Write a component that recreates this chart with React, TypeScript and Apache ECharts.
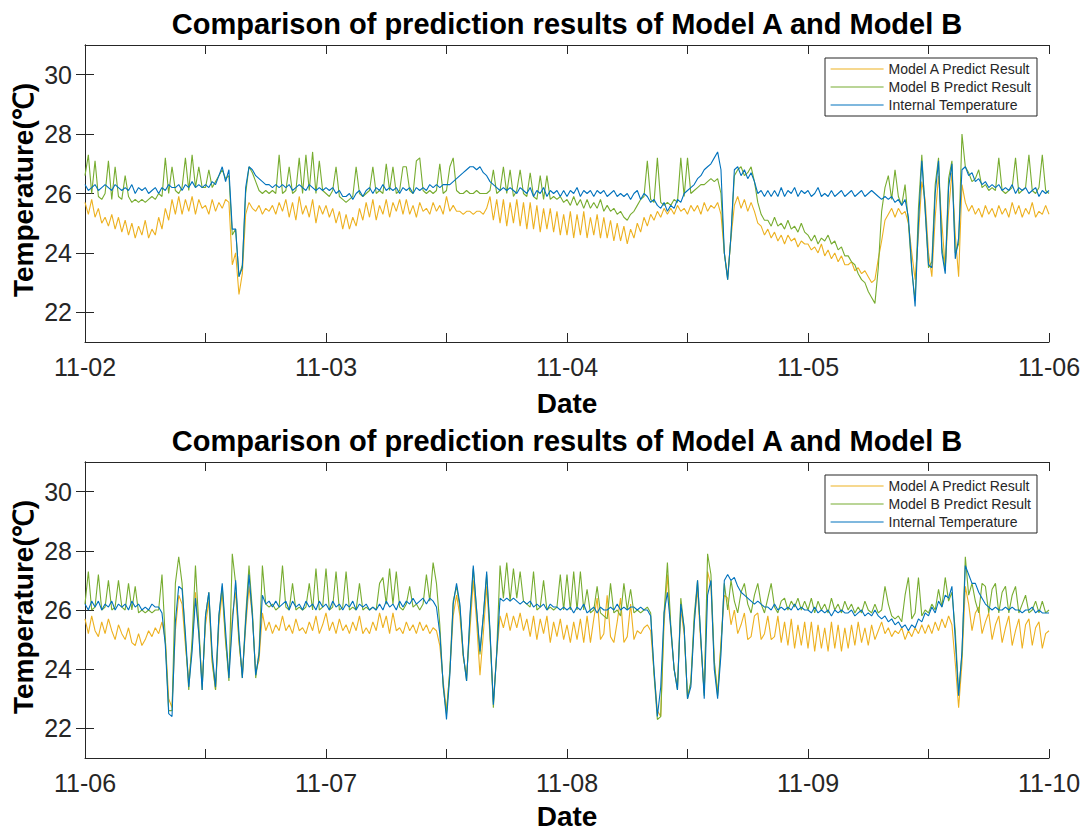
import React, { useEffect, useRef } from "react";
import * as echarts from "echarts";

// ---- Data (20-minute samples, 72 per day, 4 days per panel) ----
const topDates = ["11-02", "11-03", "11-04", "11-05", "11-06"];
const bottomDates = ["11-06", "11-07", "11-08", "11-09", "11-10"];
const yTickValues = [22, 24, 26, 28, 30];
const xTickValues = [0, 0.5, 1, 1.5, 2, 2.5, 3, 3.5, 4];
const xLabelValues = [0, 1, 2, 3, 4];

const topInternal = [
  26.3, 26.1, 26.2, 26.3, 26.1, 26.2, 26.3, 26.2, 26.1, 26.3, 26.2, 26.1,
  26.2, 26.1, 26.3, 26.0, 26.2, 26.1, 26.2, 26.0, 26.1, 26.2, 26.0, 26.2,
  26.1, 26.3, 26.2, 26.2, 26.3, 26.1, 26.3, 26.2, 26.4, 26.2, 26.3, 26.2,
  26.3, 26.2, 26.4, 26.3, 26.6, 26.9, 26.4, 26.8, 24.8, 24.8, 23.2, 23.5,
  26.2, 26.9, 26.8, 26.6, 26.5, 26.4, 26.3, 26.3, 26.2, 26.3, 26.2, 26.3,
  26.2, 26.3, 26.1, 26.2, 26.3, 26.2, 26.1, 26.3, 26.2, 26.1, 26.2, 26.1,
  26.2, 26.1, 26.2, 26.0, 26.1, 25.9, 25.9, 26.0, 25.8, 26.0, 26.1, 25.9,
  26.1, 26.2, 26.0, 26.2, 26.1, 26.3, 26.1, 26.2, 26.1, 26.2, 26.0, 26.2,
  26.1, 26.2, 26.0, 26.2, 26.1, 26.2, 26.1, 26.3, 26.2, 26.3, 26.2, 26.3,
  26.3, 26.3, 26.4, 26.5, 26.6, 26.7, 26.8, 26.9, 26.9, 26.8, 26.9, 26.7,
  26.6, 26.4, 26.3, 26.2, 26.1, 26.2, 26.1, 26.2, 26.1, 26.0, 26.2, 26.1,
  26.0, 26.2, 25.9, 26.1, 26.0, 26.2, 25.9, 26.1, 26.0, 26.1, 25.9, 26.1,
  25.9, 26.1, 26.0, 26.2, 25.9, 26.1, 26.0, 26.1, 25.9, 26.1, 26.0, 26.1,
  25.9, 26.0, 26.1, 25.9, 26.0, 25.9, 26.0, 25.8, 26.0, 26.1, 25.8, 26.0,
  25.9, 25.7, 25.8, 25.6, 25.5, 25.7, 25.4, 25.6, 25.5, 25.8, 25.7, 26.0,
  26.1, 26.2, 26.3, 26.5, 26.6, 26.8, 26.9, 27.0, 27.2, 27.4, 26.8, 24.0,
  23.1, 24.6, 26.8, 26.9, 26.6, 26.8, 26.5, 26.7, 26.4, 26.0, 26.1, 25.9,
  26.1, 25.9, 26.1, 25.9, 26.2, 25.9, 26.1, 26.0, 26.2, 25.9, 26.1, 26.0,
  26.1, 25.9, 26.0, 26.2, 25.9, 26.0, 25.9, 26.1, 25.9, 26.0, 26.1, 25.9,
  26.0, 26.1, 25.9, 26.0, 26.1, 25.9, 26.0, 26.1, 26.0, 25.9, 25.8, 25.9,
  25.8, 25.9, 25.7, 25.8, 25.6, 25.8, 25.2, 23.5, 22.2, 25.0, 27.1, 25.5,
  23.6, 23.5, 26.0, 27.1, 24.0, 23.3, 26.2, 27.0, 23.8, 24.5, 26.8, 26.9,
  26.6, 26.7, 26.4, 26.5, 26.3, 26.4, 26.2, 26.3, 26.2, 26.3, 26.1, 26.2,
  26.1, 26.3, 26.0, 26.2, 26.1, 26.2, 26.0, 26.1, 26.2, 25.9, 26.1, 26.0,
  26.1,
];

const topModelB = [
  26.6, 27.3, 26.0, 27.1, 25.9, 25.8, 26.0, 27.1, 25.8, 26.9, 25.9, 25.8,
  26.6, 25.9, 25.7, 25.8, 25.7, 25.8, 25.7, 25.8, 25.9, 25.8, 26.0, 25.9,
  27.2, 26.0, 26.9, 26.1, 26.0, 26.2, 27.2, 26.1, 27.3, 26.2, 26.9, 26.2,
  26.2, 26.8, 26.2, 26.4, 26.6, 26.8, 26.5, 26.6, 24.6, 24.8, 23.2, 23.6,
  26.0, 26.9, 26.7, 26.4, 26.1, 26.0, 26.1, 26.0, 26.1, 26.0, 27.3, 26.0,
  26.1, 26.9, 26.0, 26.1, 27.2, 26.0, 27.3, 26.1, 27.4, 26.0, 27.1, 26.1,
  26.0, 25.9, 26.1, 26.9, 25.9, 25.8, 25.7, 25.8, 25.9, 26.9, 26.0, 25.9,
  26.0, 26.1, 26.9, 26.0, 26.1, 26.0, 27.0, 26.1, 26.9, 26.0, 26.1, 26.9,
  26.9, 26.1, 26.0, 27.1, 27.2, 26.1, 26.0, 26.1, 26.0, 26.1, 27.0, 26.0,
  26.1, 26.9, 27.2, 26.1, 26.0, 26.0, 26.1, 26.0, 26.0, 26.1, 26.0, 26.0,
  26.0, 26.1, 26.8, 26.0, 26.1, 26.9, 26.0, 26.8, 25.9, 26.1, 26.8, 26.0,
  25.9, 26.7, 25.9, 25.8, 26.6, 25.8, 26.6, 25.8, 25.9, 25.8, 25.9, 25.7,
  25.8, 25.6, 25.9, 25.6, 25.8, 25.5, 25.8, 25.5, 25.7, 25.5, 25.8, 25.4,
  25.6, 25.4, 25.5, 25.3, 25.4, 25.2, 25.1, 25.3, 25.4, 25.6, 25.8, 25.9,
  27.1, 25.8, 25.7, 27.2, 25.7, 25.6, 25.7, 25.6, 25.8, 25.7, 27.2, 25.9,
  27.2, 26.0, 26.1, 26.2, 26.3, 26.3, 26.4, 26.5, 26.4, 26.5, 26.0, 24.0,
  23.1, 24.6, 26.6, 26.8, 26.9, 26.6, 26.7, 26.9, 26.4, 25.7, 25.3, 25.1,
  25.1, 24.9, 25.2, 24.9, 25.0, 24.8, 25.1, 24.8, 24.9, 24.7, 25.0, 24.7,
  24.6, 24.4, 24.6, 24.3, 24.5, 24.4, 24.6, 24.3, 24.4, 24.1, 24.2, 23.9,
  23.9, 23.7, 23.6, 23.3, 23.1, 23.0, 22.7, 22.5, 22.3, 23.5, 25.4, 26.2,
  26.6, 25.8, 26.8, 25.9, 25.6, 26.3, 25.0, 23.4, 22.4, 25.5, 27.3, 25.4,
  23.5, 23.7, 26.3, 27.2, 24.2, 23.4, 26.5, 27.1, 24.0, 24.3, 28.0, 26.9,
  26.7, 26.4, 26.5, 26.8, 26.2, 26.3, 26.1, 26.2, 26.1, 27.2, 26.1, 26.0,
  26.1, 26.2, 27.2, 26.0, 26.1, 26.2, 27.3, 26.1, 26.0, 26.2, 27.3, 26.1,
  26.0,
];

const topModelA = [
  25.7, 25.3, 25.8, 25.2, 25.5, 25.0, 25.2, 24.9, 25.3, 24.8, 25.2, 24.7,
  25.1, 24.6, 25.0, 24.5, 24.9, 24.6, 25.1, 24.5, 24.8, 24.6, 25.2, 24.8,
  25.5, 25.1, 25.8, 25.3, 25.9, 25.3, 25.8, 25.4, 25.9, 25.3, 25.8, 25.5,
  25.6, 25.3, 25.8, 25.4, 25.7, 25.5, 25.8, 25.7, 23.6, 24.0, 22.6, 23.3,
  25.3, 25.7, 25.5, 25.4, 25.6, 25.3, 25.5, 25.4, 25.6, 25.3, 25.7, 25.4,
  25.8, 25.2, 25.7, 25.1, 25.9, 25.3, 25.6, 25.2, 25.8, 25.0, 25.6, 25.3,
  25.6, 25.2, 25.5, 25.0, 25.4, 24.8, 25.3, 24.8, 25.2, 24.9, 25.5, 25.1,
  25.7, 25.2, 25.8, 25.1, 25.6, 25.3, 25.8, 25.2, 25.7, 25.4, 25.8, 25.3,
  25.8, 25.3, 25.6, 25.2, 25.7, 25.4, 25.5, 25.3, 25.7, 25.4, 25.6, 25.3,
  25.9, 25.4, 25.6, 25.4, 25.4, 25.3, 25.4, 25.4, 25.3, 25.4, 25.4, 25.3,
  25.5, 25.9, 25.1, 25.8, 25.0, 25.8, 24.9, 25.7, 25.0, 25.8, 24.9, 25.7,
  24.8, 25.7, 24.8, 25.6, 24.7, 25.5, 24.8, 25.5, 24.7, 25.4, 24.6, 25.3,
  24.6, 25.4, 24.5, 25.3, 24.6, 25.4, 24.5, 25.2, 24.6, 25.3, 24.5, 25.2,
  24.5, 25.1, 24.4, 25.0, 24.4, 24.9, 24.3, 24.8, 24.5, 25.0, 24.7, 25.2,
  24.9, 25.3, 25.1, 25.4, 25.2, 25.5, 25.3, 25.5, 25.3, 25.6, 25.4, 25.5,
  25.3, 25.6, 25.4, 25.6, 25.3, 25.7, 25.4, 25.6, 25.5, 25.7, 25.3, 24.0,
  23.2, 24.5, 25.6, 25.9, 25.5, 25.8, 25.4, 25.7, 25.4, 25.0, 24.9, 24.6,
  24.8, 24.5, 24.7, 24.4, 24.6, 24.3, 24.6, 24.4, 24.5, 24.2, 24.4, 24.3,
  24.3, 24.1, 24.2, 24.0, 24.3, 23.9, 24.1, 23.8, 24.0, 23.7, 23.9, 23.6,
  23.6, 23.7, 23.4, 23.5, 23.3, 23.4, 23.2, 23.0, 23.1, 23.8, 24.4, 25.1,
  25.3, 25.5, 25.2, 25.5, 25.3, 25.4, 25.0, 24.0, 23.1, 24.6, 26.4, 25.8,
  24.0, 23.2, 25.2, 26.6, 25.0, 23.5, 25.4, 26.7, 24.6, 23.2, 26.3, 25.7,
  25.4, 25.6, 25.3, 25.5, 25.2, 25.6, 25.3, 25.5, 25.2, 25.6, 25.3, 25.5,
  25.2, 25.7, 25.3, 25.6, 25.2, 25.5, 25.3, 25.7, 25.2, 25.4, 25.3, 25.6,
  25.3,
];

const bottomInternal = [
  26.2, 26.0, 26.3, 26.1, 26.3, 26.0, 26.2, 26.1, 26.3, 26.0, 26.2, 26.1,
  26.2, 26.0, 26.3, 26.1, 26.2, 26.0, 26.1, 26.0, 26.2, 26.1, 26.1, 25.9,
  24.8, 22.5, 22.4, 25.6, 26.8, 26.7, 25.2, 23.4, 24.6, 26.4, 25.2, 23.3,
  25.8, 26.6, 24.5, 23.4, 25.8, 26.9, 25.3, 23.7, 25.5, 27.0, 25.2, 23.7,
  25.6, 27.2, 25.8, 23.8, 24.5, 26.5, 26.2, 26.3, 26.1, 26.3, 26.1, 26.2,
  26.3, 26.0, 26.3, 26.1, 26.2, 26.0, 26.3, 26.1, 26.2, 26.0, 26.3, 26.1,
  26.2, 26.0, 26.3, 26.1, 26.2, 26.0, 26.2, 26.1, 26.3, 26.0, 26.2, 26.1,
  26.2, 26.0, 26.1, 26.0, 26.2, 26.0, 26.3, 26.1, 26.2, 26.0, 26.3, 26.1,
  26.3, 26.2, 26.4, 26.2, 26.3, 26.4, 26.2, 26.4, 26.3, 26.1, 25.2, 23.5,
  22.3, 23.8, 26.2, 26.9, 26.2, 24.5, 23.6, 25.8, 27.5, 26.0, 24.6, 25.8,
  27.3, 25.3, 22.8, 24.5, 26.4, 26.3, 26.4, 26.3, 26.4, 26.3, 26.2, 26.3,
  26.2, 26.3, 26.1, 26.2, 26.1, 26.2, 26.0, 26.2, 26.1, 26.1, 26.0, 26.1,
  26.0, 26.1, 25.9, 26.1, 26.0, 26.2, 25.9, 26.0, 26.1, 25.9, 26.1, 26.0,
  26.0, 26.1, 26.0, 26.2, 26.0, 26.1, 26.0, 26.1, 26.1, 26.0, 26.1, 26.0,
  26.0, 25.8, 24.0, 22.4, 23.4, 25.9, 26.6, 25.4, 24.0, 23.3, 26.2, 25.4,
  23.0, 23.4, 25.5, 27.0, 25.0, 23.0, 26.5, 27.0, 24.0, 23.0, 24.5, 27.0,
  27.2, 27.0, 27.1, 26.8, 26.6, 26.5, 26.4, 26.3, 26.2, 26.3, 26.2, 26.1,
  26.1, 26.0, 26.2, 26.0, 26.1, 26.0, 26.1, 26.0, 26.2, 26.0, 26.1, 26.0,
  26.0, 25.9, 26.1, 25.9, 26.0, 25.9, 26.0, 25.8, 26.0, 25.9, 26.0, 25.9,
  25.9, 26.0, 25.8, 25.9, 26.0, 25.8, 25.9, 25.8, 26.0, 25.8, 25.7, 25.8,
  25.6, 25.7, 25.5, 25.6, 25.4, 25.5, 25.3, 25.5, 25.4, 25.7, 25.6, 25.9,
  25.8, 26.1, 25.9, 26.3, 26.1, 26.5, 26.4, 26.8, 25.0, 23.1, 24.6, 27.5,
  27.2, 26.9, 26.9, 26.6, 26.4, 26.2, 26.1, 26.0, 26.1, 26.0, 26.0, 26.1,
  26.0, 26.1, 26.0, 26.0, 25.9, 26.0, 26.0, 26.1, 25.9, 26.0, 25.9, 25.9,
  25.9,
];

const bottomModelB = [
  26.2, 27.3, 26.0, 26.1, 27.2, 26.0, 26.1, 27.0, 26.0, 26.1, 27.0, 26.1,
  26.0, 26.9, 26.0, 26.8, 25.9, 26.0, 25.9, 26.0, 25.9, 26.0, 26.0, 27.2,
  25.0, 22.6, 22.6, 26.9, 27.8, 26.9, 25.0, 23.3, 25.0, 27.5, 25.5, 23.3,
  25.8, 26.6, 24.3, 23.3, 25.8, 26.8, 25.0, 23.6, 27.9, 26.9, 25.0, 23.7,
  25.8, 27.5, 26.0, 23.7, 24.6, 27.5, 26.2, 26.1, 26.2, 26.0, 26.1, 27.5,
  26.1, 26.0, 26.9, 26.0, 26.1, 26.0, 26.1, 26.9, 26.0, 27.4, 26.0, 26.1,
  27.4, 26.0, 26.1, 27.3, 26.0, 26.1, 27.3, 26.0, 26.1, 26.0, 26.9, 26.0,
  26.1, 26.0, 26.1, 26.0, 26.9, 27.1, 26.2, 27.4, 26.2, 27.3, 26.1, 26.0,
  26.2, 26.8, 26.1, 26.2, 26.0, 26.2, 27.2, 26.3, 27.6, 26.9, 25.5, 23.4,
  22.5, 24.0, 26.3, 26.8, 26.1, 24.5, 23.6, 25.7, 27.4, 26.0, 24.5, 25.8,
  27.2, 25.2, 22.7, 24.6, 27.5, 26.4, 27.6, 26.3, 27.4, 26.4, 27.3, 26.3,
  26.2, 26.1, 27.3, 26.0, 26.1, 27.0, 26.0, 26.1, 26.0, 26.1, 27.2, 26.0,
  27.2, 26.0, 27.3, 26.0, 27.3, 26.0, 26.7, 25.9, 26.0, 26.8, 25.9, 25.8,
  25.7, 26.9, 25.9, 26.0, 25.8, 26.9, 26.0, 26.7, 25.9, 26.0, 25.9, 26.0,
  26.1, 25.9, 23.8, 22.3, 22.4, 25.9, 27.6, 25.5, 24.0, 23.3, 26.4, 25.4,
  23.0, 23.6, 25.8, 27.0, 25.0, 23.1, 27.9, 27.2, 24.3, 23.1, 24.8, 26.9,
  26.0, 27.0, 26.3, 25.9, 26.6, 26.9, 26.2, 25.9, 26.5, 26.9, 26.2, 25.9,
  26.4, 26.9, 26.1, 25.9, 26.3, 26.4, 26.0, 26.3, 26.1, 26.4, 26.0, 26.3,
  26.0, 26.4, 25.9, 26.3, 26.0, 26.2, 25.9, 26.4, 26.0, 26.2, 25.9, 26.3,
  26.0, 26.2, 25.9, 26.1, 25.9, 26.3, 26.0, 25.9, 26.2, 25.9, 26.0, 26.8,
  26.2, 25.8, 25.7, 25.8, 25.6, 26.5, 27.1, 25.7, 25.9, 27.1, 25.8, 26.0,
  25.9, 26.2, 26.0, 26.7, 26.1, 27.1, 26.3, 26.6, 25.3, 23.2, 24.5, 27.8,
  26.5, 26.9, 26.3, 25.9, 26.9, 26.8, 25.9, 26.7, 26.9, 25.9, 26.6, 26.8,
  25.9, 26.5, 26.8, 25.9, 26.2, 26.5, 25.9, 26.0, 26.3, 25.9, 26.3, 25.9,
  26.0,
];

const bottomModelA = [
  25.7, 25.2, 25.8, 25.3, 25.1, 25.6, 25.2, 25.7, 25.3, 25.0, 25.5, 25.2,
  25.0, 25.4, 24.9, 24.8, 25.2, 24.8, 25.0, 25.3, 25.1, 25.4, 25.2, 25.6,
  25.0, 23.0, 22.7, 25.3, 26.5, 26.2, 24.8, 23.6, 24.8, 26.6, 25.2, 23.5,
  25.5, 26.3, 24.2, 23.3, 25.5, 26.6, 24.9, 23.8, 25.8, 26.6, 24.9, 23.8,
  25.4, 26.8, 25.8, 23.9, 24.3, 25.9, 25.3, 25.6, 25.2, 25.5, 25.3, 25.8,
  25.3, 25.5, 25.2, 25.7, 25.3, 25.4, 25.2, 25.6, 25.3, 25.8, 25.2, 25.5,
  25.9, 25.3, 25.6, 25.2, 25.7, 25.3, 25.5, 25.2, 25.6, 25.3, 25.8, 25.2,
  25.4, 25.2, 25.6, 25.3, 25.9, 25.4, 25.8, 25.2, 25.9, 25.3, 25.4, 25.2,
  25.6, 25.3, 25.5, 25.2, 25.6, 25.3, 25.5, 25.2, 25.4, 25.3, 24.8, 23.6,
  22.6, 23.9, 25.8, 26.5, 25.8, 24.4, 23.8, 25.3, 27.0, 25.6, 23.8, 25.2,
  26.8, 25.1, 22.9, 24.5, 25.8, 25.4, 25.9, 25.3, 25.8, 25.4, 25.9, 25.3,
  25.7, 25.1, 25.8, 25.0, 25.7, 25.2, 25.8, 24.9, 25.6, 25.1, 25.7, 25.0,
  25.5, 24.9, 25.6, 25.0, 25.7, 24.9, 25.8, 24.9, 25.7, 26.4, 25.0, 25.2,
  26.5, 25.1, 24.9, 25.6, 26.4, 24.9, 25.1, 26.2, 25.0, 25.3, 25.2, 25.4,
  25.5, 25.3, 23.9, 22.6, 22.4, 25.5, 27.2, 25.3, 24.0, 23.4, 26.0, 25.2,
  23.1, 23.5, 25.6, 26.7, 24.8, 23.2, 27.3, 26.8, 24.2, 23.2, 24.9, 26.5,
  26.4, 25.5, 26.0, 25.2, 25.5, 25.9, 25.0, 25.1, 25.8, 25.9, 25.0, 25.2,
  25.8, 25.0, 25.1, 25.8, 24.9, 25.6, 24.8, 25.7, 24.7, 25.5, 24.8, 25.6,
  24.7, 25.6, 24.6, 25.5, 24.7, 25.4, 24.6, 25.6, 24.7, 25.5, 24.6, 25.4,
  24.7, 25.5, 24.8, 25.6, 24.9, 25.4, 24.8, 25.5, 25.0, 25.3, 25.6, 25.2,
  25.4, 25.1, 25.3, 25.2, 25.4, 25.0, 25.3, 25.1, 25.4, 25.2, 25.5, 25.2,
  25.5, 25.2, 25.6, 25.3, 25.7, 25.4, 25.8, 25.5, 24.2, 22.7, 24.2, 26.8,
  26.2, 25.3, 25.9, 26.1, 25.2, 25.6, 25.9, 25.0, 25.5, 25.8, 24.9, 25.4,
  25.8, 24.8, 25.3, 25.7, 24.7, 25.5, 25.7, 24.8, 25.4, 25.6, 24.7, 25.2,
  25.3,
];

const seriesNames = ["Model A Predict Result", "Model B Predict Result", "Internal Temperature"];
const seriesColors = ["#EDB120", "#77AC30", "#0072BD"];
const titleText = "Comparison of prediction results of Model A and Model B";

const FONT = "'Liberation Sans', Arial, Helvetica, sans-serif";
const AXIS_COLOR = "#262626";

const toPoints = (arr: number[]) => arr.map((v, i) => [(i * 4) / (arr.length - 1), v]);

export default function App() {
  const ref = useRef<HTMLDivElement>(null);

  useEffect(() => {
    if (!ref.current) return;
    const chart = echarts.init(ref.current, undefined, { renderer: "svg" });

    const grids = [
      { left: 85, top: 45, width: 964, height: 297 },
      { left: 85, top: 462, width: 964, height: 296 },
    ];
    const dateSets = [topDates, bottomDates];

    const xAxes: any[] = [];
    const yAxes: any[] = [];
    [0, 1].forEach((g) => {
      const dates = dateSets[g];
      xAxes.push({
        type: "value",
        gridIndex: g,
        position: "bottom",
        min: 0,
        max: 4,
        axisLine: { show: true, lineStyle: { color: AXIS_COLOR, width: 1 } },
        axisTick: { show: true, inside: true, length: 9, customValues: xTickValues, lineStyle: { color: AXIS_COLOR } },
        axisLabel: {
          show: true,
          customValues: xLabelValues,
          formatter: (v: number) => dates[Math.round(v)] ?? "",
          fontSize: 25,
          fontFamily: FONT,
          color: AXIS_COLOR,
          margin: 12,
        },
        splitLine: { show: false },
      });
      xAxes.push({
        type: "value",
        gridIndex: g,
        position: "top",
        min: 0,
        max: 4,
        axisLine: { show: true, lineStyle: { color: AXIS_COLOR, width: 1 } },
        axisTick: { show: true, inside: true, length: 9, customValues: xTickValues, lineStyle: { color: AXIS_COLOR } },
        axisLabel: { show: false },
        splitLine: { show: false },
      });
      yAxes.push({
        type: "value",
        gridIndex: g,
        position: "left",
        min: 21,
        max: 31,
        axisLine: { show: true, lineStyle: { color: AXIS_COLOR, width: 1 } },
        axisTick: { show: true, inside: true, length: 9, customValues: yTickValues, lineStyle: { color: AXIS_COLOR } },
        axisLabel: {
          show: true,
          customValues: yTickValues,
          fontSize: 25,
          fontFamily: FONT,
          color: AXIS_COLOR,
          margin: 13,
        },
        splitLine: { show: false },
      });
      yAxes.push({
        type: "value",
        gridIndex: g,
        position: "right",
        min: 21,
        max: 31,
        axisLine: { show: true, lineStyle: { color: AXIS_COLOR, width: 1 } },
        axisTick: { show: true, inside: true, length: 9, customValues: yTickValues, lineStyle: { color: AXIS_COLOR } },
        axisLabel: { show: false },
        splitLine: { show: false },
      });
    });

    const panelData = [
      [topModelA, topModelB, topInternal],
      [bottomModelA, bottomModelB, bottomInternal],
    ];
    const series: any[] = [];
    [0, 1].forEach((g) => {
      panelData[g].forEach((arr, k) => {
        series.push({
          name: seriesNames[k],
          type: "line",
          xAxisIndex: g * 2,
          yAxisIndex: g * 2,
          data: toPoints(arr),
          symbol: "none",
          showSymbol: false,
          smooth: false,
          lineStyle: { color: seriesColors[k], width: 1.1 },
          itemStyle: { color: seriesColors[k] },
          z: 2 + k,
        });
      });
    });

    const legendBase = {
      orient: "vertical",
      left: 825,
      data: seriesNames,
      selectedMode: false,
      itemWidth: 53,
      itemHeight: 14,
      itemGap: 4,
      padding: [4, 6, 4, 5],
      borderColor: AXIS_COLOR,
      borderWidth: 1,
      backgroundColor: "#ffffff",
      itemStyle: { opacity: 0 },
      lineStyle: { width: 1.2 },
      textStyle: { fontSize: 14, fontFamily: FONT, color: AXIS_COLOR },
    };

    const textEl = (x: number, y: number, text: string, size: number, rotation = 0) => ({
      type: "text",
      x,
      y,
      rotation,
      style: {
        text,
        fontSize: size,
        fontWeight: "bold",
        fontFamily: FONT,
        fill: "#000000",
        align: "center",
        verticalAlign: "middle",
      },
    });

    chart.setOption({
      animation: false,
      backgroundColor: "#ffffff",
      grid: grids,
      xAxis: xAxes,
      yAxis: yAxes,
      legend: [
        { ...legendBase, top: 58 },
        { ...legendBase, top: 475 },
      ],
      series,
      graphic: [
        textEl(567, 24, titleText, 29),
        textEl(567, 441, titleText, 29),
        textEl(567, 403, "Date", 28),
        textEl(567, 816, "Date", 28),
        textEl(23, 190, "Temperature(℃)", 28, Math.PI / 2),
        textEl(23, 607, "Temperature(℃)", 28, Math.PI / 2),
      ],
    });

    return () => {
      chart.dispose();
    };
  }, []);

  return (
    <div
      ref={ref}
      style={{ position: "fixed", left: 0, top: 0, width: 1091, height: 832, background: "#ffffff" }}
    />
  );
}
